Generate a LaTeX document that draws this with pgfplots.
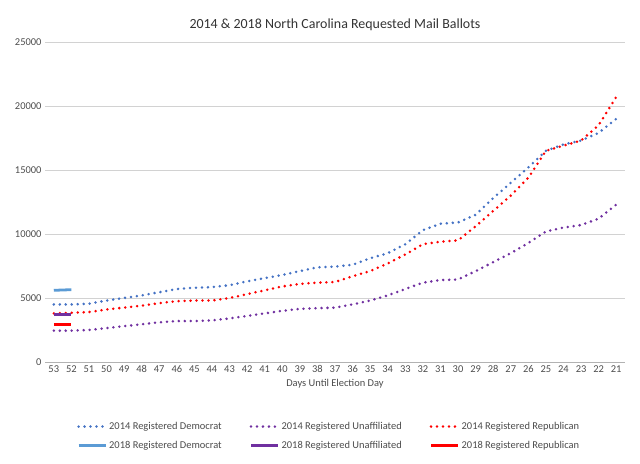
\documentclass[border=0pt]{standalone}
\usepackage{pgfplots}
\pgfplotsset{compat=1.18}
\usepackage{fontspec}
\setmainfont{Carlito}
\definecolor{dem}{RGB}{68,114,196}
\definecolor{dem18}{RGB}{91,155,213}
\definecolor{una}{RGB}{112,48,160}
\definecolor{rep}{RGB}{255,0,0}
\begin{document}
\begin{tikzpicture}
\useasboundingbox (-45bp,-102bp) rectangle (595bp,362bp);
\begin{axis}[
scale only axis, width=580bp, height=320bp,
at={(0,0)},
xmin=-0.5, xmax=32.5, ymin=0, ymax=25000,
xtick={0,...,32},
xticklabels={53,52,51,50,49,48,47,46,45,44,43,42,41,40,39,38,37,36,35,34,33,32,31,30,29,28,27,26,25,24,23,22,21},
ytick={0,5000,...,25000},
/pgf/number format/assume math mode=true,
scaled y ticks=false,
yticklabel style={/pgf/number format/1000 sep={}},
ymajorgrids, grid style={gray!35},
axis y line*=left, axis x line*=bottom,
y axis line style={draw=none}, ytick style={draw=none}, xtick style={draw=none},
x axis line style={gray!60},
tick label style={font=\fontsize{10.5}{12}\selectfont, text=black!70},
title={2014 \& 2018 North Carolina Requested Mail Ballots},
title style={font=\fontsize{14}{16}\selectfont, text=black!80, yshift=2bp},
xlabel={Days Until Election Day}, xlabel style={font=\fontsize{10.5}{12}\selectfont, text=black!70},
legend columns=3,
legend style={at={(0.49,-0.175)}, anchor=north, draw=none, font=\fontsize{10.5}{12}\selectfont, text=black!70, /tikz/every even column/.append style={column sep=26pt}, row sep=6pt},
legend image post style={xscale=1.6},
legend cell align=left,
]
\tikzset{dots/.style={line width=2.8pt, line cap=round, dash pattern=on 0pt off 6pt}}
\addplot[dem, dots] coordinates {(0,4500)(1,4500)(2,4550)(3,4800)(4,5000)(5,5200)(6,5450)(7,5700)(8,5800)(9,5850)(10,6000)(11,6300)(12,6550)(13,6800)(14,7100)(15,7400)(16,7450)(17,7600)(18,8100)(19,8500)(20,9200)(21,10300)(22,10800)(23,10900)(24,11500)(25,12800)(26,14000)(27,15200)(28,16500)(29,17000)(30,17300)(31,17900)(32,19000)};
\addlegendentry{2014 Registered Democrat}
\addplot[una, dots] coordinates {(0,2450)(1,2450)(2,2500)(3,2650)(4,2800)(5,2950)(6,3100)(7,3200)(8,3200)(9,3250)(10,3400)(11,3600)(12,3800)(13,4000)(14,4150)(15,4200)(16,4250)(17,4500)(18,4800)(19,5200)(20,5700)(21,6200)(22,6400)(23,6450)(24,7100)(25,7800)(26,8500)(27,9300)(28,10200)(29,10500)(30,10700)(31,11200)(32,12300)};
\addlegendentry{2014 Registered Unaffiliated}
\addplot[rep, dots] coordinates {(0,3800)(1,3850)(2,3900)(3,4100)(4,4250)(5,4400)(6,4600)(7,4750)(8,4800)(9,4800)(10,5000)(11,5300)(12,5600)(13,5900)(14,6100)(15,6200)(16,6250)(17,6700)(18,7100)(19,7700)(20,8400)(21,9200)(22,9400)(23,9500)(24,10600)(25,11800)(26,13000)(27,14400)(28,16500)(29,16900)(30,17300)(31,18500)(32,20700)};
\addlegendentry{2014 Registered Republican}
\addplot[dem18, line width=2.8pt] coordinates {(0,5600)(1,5650)};
\addlegendentry{2018 Registered Democrat}
\addplot[una, line width=2.8pt] coordinates {(0,3700)(1,3700)};
\addlegendentry{2018 Registered Unaffiliated}
\addplot[rep, line width=2.8pt] coordinates {(0,2900)(1,2900)};
\addlegendentry{2018 Registered Republican}
\end{axis}
\end{tikzpicture}
\end{document}
